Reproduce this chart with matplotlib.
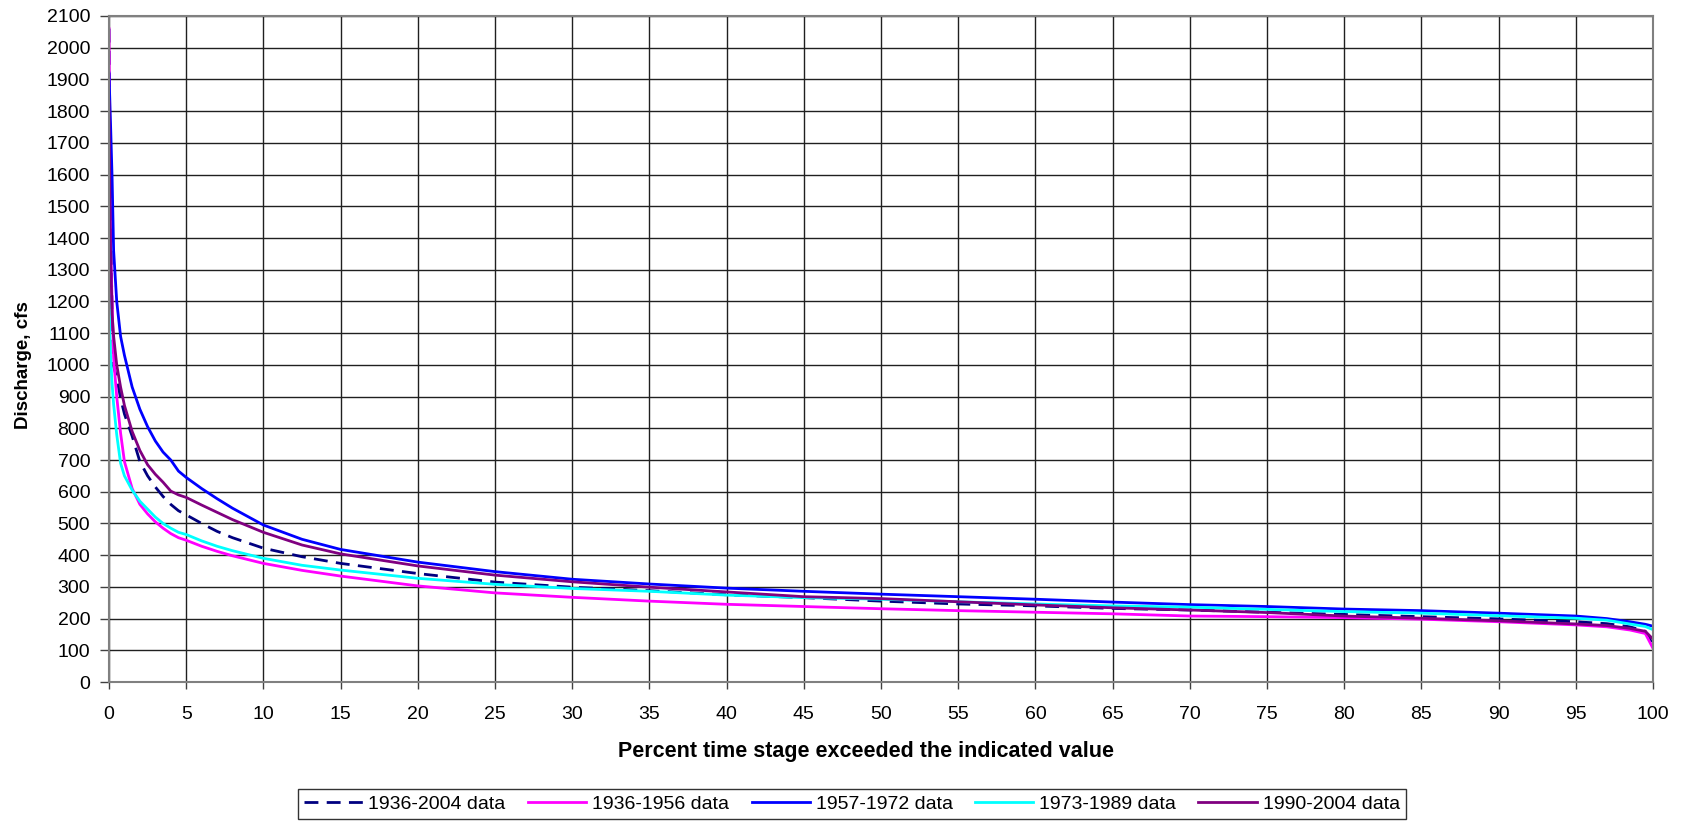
import matplotlib
matplotlib.use("Agg")
import matplotlib.pyplot as plt

plt.rcParams['font.family'] = ['Liberation Sans', 'DejaVu Sans']

percent = [0, 0.05, 0.1, 0.2, 0.3, 0.5, 0.75, 1, 1.5, 2, 2.5, 3, 3.5, 4, 4.5, 5,
           6, 7, 8, 10, 12.5, 15, 20, 25, 30, 35, 40, 45, 50, 55, 60, 65, 70,
           75, 80, 85, 90, 95, 97, 98.5, 99.5, 100]

q_1936_2004 = [2060, 1700, 1450, 1170, 995, 960, 895, 845, 775, 695, 650, 615, 585, 560, 540, 527,
               500, 475, 455, 422, 395, 374, 342, 315, 299, 288, 275, 266, 255, 246, 240, 232, 227,
               220, 213, 206, 199, 190, 184, 174, 160, 117]
q_1936_1956 = [2060, 1700, 1380, 1200, 1020, 900, 785, 695, 610, 560, 530, 505, 485, 468, 455, 447,
               428, 412, 398, 374, 352, 334, 303, 281, 267, 255, 245, 238, 231, 225, 220, 215, 208,
               206, 203, 198, 190, 180, 174, 164, 153, 106]
q_1957_1972 = [1920, 1840, 1760, 1590, 1360, 1200, 1090, 1030, 930, 860, 805, 760, 725, 700, 665, 645,
               610, 578, 548, 495, 450, 418, 378, 348, 324, 309, 296, 286, 277, 269, 261, 252, 244,
               238, 230, 225, 217, 208, 200, 190, 182, 176]
q_1973_1989 = [1220, 1100, 1030, 940, 875, 780, 690, 650, 605, 570, 545, 520, 500, 485, 472, 465,
               445, 428, 414, 390, 368, 353, 327, 308, 295, 286, 274, 266, 261, 253, 246, 240, 236,
               229, 222, 217, 209, 201, 195, 183, 175, 165]
q_1990_2004 = [1830, 1560, 1360, 1160, 1090, 1000, 930, 872, 790, 730, 685, 655, 630, 602, 590, 582,
               558, 535, 512, 472, 432, 404, 366, 337, 316, 299, 284, 269, 263, 253, 243, 234, 227,
               219, 208, 201, 193, 183, 178, 169, 160, 135]

series_labels = ['1936-2004 data', '1936-1956 data', '1957-1972 data', '1973-1989 data', '1990-2004 data']
x_ticks = list(range(0, 101, 5))
y_ticks = list(range(0, 2101, 100))

W, H = 1686, 821
fig = plt.figure(figsize=(W / 100, H / 100), dpi=100)
ax = fig.add_axes([109 / W, 1 - 682 / H, 1544 / W, 666 / H])

ax.plot(percent, q_1936_2004, color='#000080', lw=2, dashes=(5, 3), label=series_labels[0])
ax.plot(percent, q_1936_1956, color='#FF00FF', lw=2, label=series_labels[1])
ax.plot(percent, q_1957_1972, color='#0000FF', lw=2, label=series_labels[2])
ax.plot(percent, q_1973_1989, color='#00FFFF', lw=2, label=series_labels[3])
ax.plot(percent, q_1990_2004, color='#800080', lw=2, label=series_labels[4])

ax.set_xlim(0, 100)
ax.set_ylim(0, 2100)
ax.set_xticks(x_ticks)
ax.set_yticks(y_ticks)
ax.grid(True, color='#202020', lw=1)
ax.set_axisbelow(True)
for s in ax.spines.values():
    s.set_color('#808080')
    s.set_linewidth(1.5)
ax.tick_params(axis='y', direction='out', length=6.5, width=1, color='#404040', labelsize=14, pad=7)
ax.tick_params(axis='x', direction='out', length=5, width=1, color='#404040', labelsize=14, pad=12)

ax.set_xlabel('Percent time stage exceeded the indicated value', fontsize=15.5, fontweight='bold')
ax.xaxis.set_label_coords((866 - 109) / 1544, (682 - 751) / 666)
ax.xaxis.label.set_va('center')
ax.set_ylabel('Discharge, cfs', fontsize=13.5, fontweight='bold')
ax.yaxis.set_label_coords((24 - 109) / 1544, (682 - 365) / 666)
ax.yaxis.label.set_va('center')

leg = fig.legend(loc='center', bbox_to_anchor=(852 / W, 1 - 804 / H), ncol=5, fontsize=14,
                 frameon=True, fancybox=False, edgecolor='black', handlelength=3.0,
                 columnspacing=1.15, handletextpad=0.3, borderpad=0.3)
leg.get_frame().set_linewidth(1)

fig.savefig('out.png', dpi=100)
